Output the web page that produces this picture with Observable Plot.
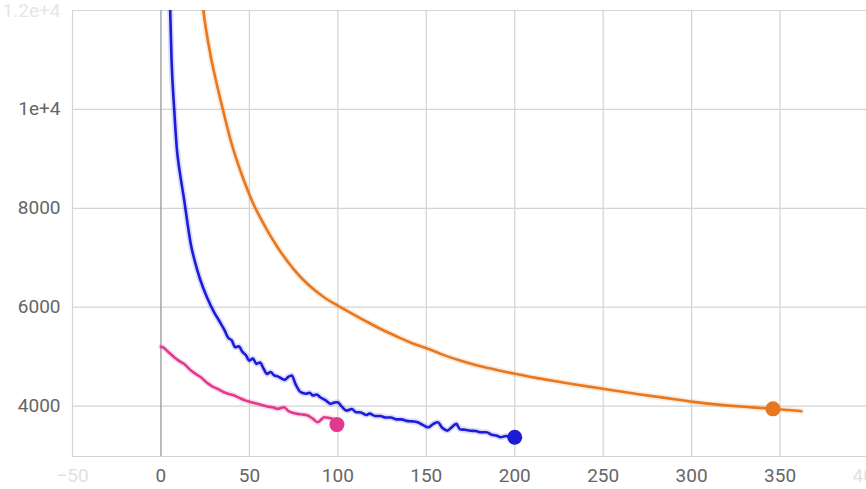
<!DOCTYPE html>
<html>
<head>
<meta charset="utf-8">
<script src="https://cdn.jsdelivr.net/npm/d3@7"></script>
<script src="https://cdn.jsdelivr.net/npm/@observablehq/plot@0.6"></script>
<style>
  html, body { margin: 0; padding: 0; background: #fff; }
  #chart { width: 866px; height: 489px; overflow: hidden; }
  svg { display: block; font-family: Roboto, "Noto Sans", sans-serif; }
</style>
</head>
<body>
<div id="chart"></div>
<script>
// ---- data ----
const blueSteps = [1, 2, 3, 4, 5, 6, 7.5, 9, 11, 13, 15, 17, 19, 22, 26, 30, 33, 36, 38, 40, 42, 44, 46, 48, 50, 52, 54, 56, 58, 60, 62, 64, 66, 68, 70, 72, 74, 76, 79, 82, 84, 86, 88, 90, 93, 96, 98, 100, 102, 105, 108, 110, 113, 116, 118, 121, 124, 127, 130, 133, 136, 139, 142, 145, 148, 151, 154, 156.5, 159, 162, 164, 167, 169, 172, 175, 178, 181, 184, 187, 190, 192, 195, 198, 200];
const blueValues = [30000, 22000, 17000, 14000, 12300, 11000, 10000, 9200, 8650, 8200, 7700, 7250, 6950, 6580, 6200, 5900, 5720, 5530, 5380, 5330, 5190, 5210, 5100, 5030, 4920, 4960, 4854, 4880, 4760, 4652, 4690, 4620, 4600, 4560, 4530, 4590, 4618, 4450, 4280, 4250, 4270, 4213, 4235, 4179, 4120, 4045, 4070, 4078, 4000, 3909, 3940, 3880, 3870, 3820, 3848, 3800, 3800, 3770, 3770, 3730, 3730, 3700, 3690, 3673, 3620, 3571, 3640, 3673, 3560, 3504, 3560, 3640, 3530, 3520, 3500, 3495, 3470, 3470, 3420, 3400, 3369, 3395, 3370, 3369];

const orangeSteps = [20, 24, 28, 31, 35, 40, 45, 50, 53, 56, 60, 64, 68, 75, 80, 87, 93, 100, 110, 117, 124, 135, 142, 151, 160, 170, 180, 190, 200, 212, 224, 236, 249, 256, 270, 285, 301, 315, 330, 346, 355, 362];
const orangeValues = [14000, 12000, 11100, 10600, 10000, 9300, 8750, 8280, 8030, 7820, 7560, 7320, 7100, 6770, 6570, 6340, 6180, 6030, 5830, 5695, 5563, 5380, 5270, 5158, 5030, 4910, 4810, 4730, 4652, 4570, 4495, 4425, 4354, 4314, 4240, 4165, 4085, 4030, 3985, 3944, 3920, 3896];

const pinkSteps = [0, 1, 4, 7.5, 10, 13, 17, 20, 22.6, 26, 29, 32, 35.6, 38, 41.5, 45, 48, 51, 54, 57, 60, 63, 66, 69.7, 72, 75, 77.3, 80, 83, 86, 88.6, 91, 92.4, 95, 97, 99.5];
const pinkValues = [5200, 5190, 5100, 4988, 4920, 4854, 4718, 4640, 4584, 4470, 4400, 4348, 4280, 4250, 4213, 4152, 4110, 4078, 4050, 4020, 3990, 3976, 3943, 3976, 3900, 3860, 3842, 3830, 3808, 3740, 3673, 3740, 3774, 3760, 3741, 3630];

// markers: [step, value]
const dotSteps = [99.5, 200, 346];
const dotValues = [3625, 3369, 3944];
const seriesNames = ["pink", "blue", "orange"];

const xTicks = [0, 50, 100, 150, 200, 250, 300, 350];
const xEdgeTicks = [-50, 400];
const yTicks = [4000, 6000, 8000, 10000];
const yEdgeTicks = [12000];

// ---- build tables ----
const colors = { blue: "#1c1cd8", orange: "#e8771d", pink: "#e03a8e" };
const toRows = (steps, values, name) => steps.map((s, i) => ({ step: s, value: values[i], series: name }));
const blue = toRows(blueSteps, blueValues, "blue");
const orange = toRows(orangeSteps, orangeValues, "orange");
const pink = toRows(pinkSteps, pinkValues, "pink");
const dots = dotSteps.map((s, i) => ({ step: s, value: dotValues[i], series: seriesNames[i] }));

const fmt = d => d === 10000 ? "1e+4" : d === 12000 ? "1.2e+4" : String(d);

const lineMarks = [];
for (const [rows, name, curve] of [[orange, "orange", "catmull-rom"], [blue, "blue", "monotone-x"], [pink, "pink", "monotone-x"]]) {
  lineMarks.push(Plot.line(rows, { x: "step", y: "value", curve, stroke: colors[name], strokeWidth: 6, strokeOpacity: 0.16, clip: true }));
  lineMarks.push(Plot.line(rows, { x: "step", y: "value", curve, stroke: colors[name], strokeWidth: 2.6, clip: true }));
}

const chart = Plot.plot({
  width: 866,
  height: 489,
  marginLeft: 72,
  marginRight: 0,
  marginTop: 10,
  marginBottom: 33,
  style: { fontSize: "19px", fontFamily: "Roboto, 'Noto Sans', sans-serif", background: "#fff" },
  x: { domain: [-50, 400], range: [72, 868] },
  y: { domain: [2980, 12000], range: [456, 10] },
  marks: [
    Plot.gridX({ ticks: [-50, 50, 100, 150, 200, 250, 300, 350, 400], stroke: "#d4d4d4", strokeOpacity: 1, strokeWidth: 1.2 }),
    Plot.gridY({ ticks: [4000, 6000, 8000, 10000, 12000], stroke: "#d4d4d4", strokeOpacity: 1, strokeWidth: 1.2 }),
    Plot.ruleY([2980], { stroke: "#d4d4d4", strokeWidth: 1.2 }),
    Plot.ruleX([0], { stroke: "#a0a0a0", strokeWidth: 1.4 }),
    ...lineMarks,
    Plot.dot(dots, { x: "step", y: "value", r: 7.5, fill: d => colors[d.series], stroke: "none" }),
    Plot.axisX({ ticks: xTicks, tickSize: 0, tickPadding: 12, fill: "#666", label: null, fontSize: 19 }),
    Plot.axisX({ ticks: xEdgeTicks, tickSize: 0, tickPadding: 12, fill: "#e2e2e2", label: null, fontSize: 19 }),
    Plot.axisY({ ticks: yTicks, tickSize: 0, tickPadding: 12, fill: "#666", label: null, tickFormat: fmt, fontSize: 19 }),
    Plot.axisY({ ticks: yEdgeTicks, tickSize: 0, tickPadding: 12, fill: "#e6e6e6", label: null, tickFormat: fmt, fontSize: 19 })
  ]
});
document.getElementById("chart").appendChild(chart);
</script>
</body>
</html>
